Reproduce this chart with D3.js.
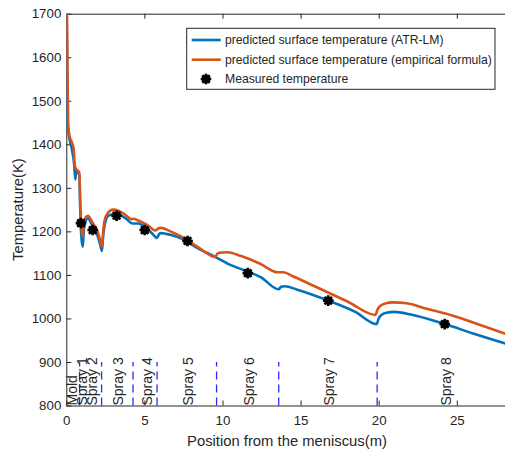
<!DOCTYPE html>
<html><head><meta charset="utf-8">
<script src="https://cdn.jsdelivr.net/npm/d3@7"></script>
<style>body{margin:0;background:#fff}svg{display:block}text{font-family:"Liberation Sans",Arial,Helvetica,sans-serif;fill:#262626}</style>
</head><body>
<svg id="chart" width="505" height="453"></svg>
<script>
// Data
const atrX = [0,0.04,0.07,0.12,0.36,0.5,0.58,0.62,0.83,0.9,0.97,1.05,1.12,1.25,1.4,1.6,1.88,2.05,2.2,2.28,2.35,2.5,2.7,3.1,3.4,3.8,4.25,4.6,5.1,5.5,5.81,5.95,6.05,6.67,7.52,8.38,9.55,10.5,11.58,12.44,13.6,13.75,14.0,14.79,16.77,18.5,19.87,20.0,20.17,20.5,21,22.05,24.23,26,28.5];
const atrT = [1800,1650,1446,1430,1388,1355,1319,1338,1330,1240,1185,1165,1200,1225,1230,1218,1200,1185,1165,1155,1185,1222,1236,1240,1238,1230,1218,1218,1208,1195,1185,1194,1196,1192,1181,1162,1141,1123,1108,1095,1067,1073,1074,1066,1041,1015,987,1000,1008,1013,1015,1009,987,966,938];
const empX = [0,0.04,0.08,0.12,0.2,0.35,0.47,0.55,0.6,0.83,0.9,0.97,1.05,1.12,1.25,1.4,1.6,1.88,2.05,2.2,2.28,2.35,2.45,2.65,3.0,3.3,3.7,4.2,4.3,4.6,5.17,5.71,5.85,6.05,6.67,7.52,8.38,9.55,9.65,9.8,10.3,11.15,12.44,13.55,13.9,14.5,16.07,18,19.8,19.9,20.05,20.4,20.9,21.8,23,24.6,26.5,28.5];
const empT = [1800,1700,1560,1450,1420,1405,1390,1350,1345,1335,1262,1205,1188,1215,1233,1236,1225,1208,1195,1175,1165,1195,1225,1242,1250,1248,1240,1228,1229,1225,1215,1202,1206,1208,1200,1185,1165,1141,1148,1151,1152,1144,1125,1106,1106,1097,1071,1039,1008,1018,1027,1034,1037,1035,1023,1008,985,960];
const measX = [0.94,1.69,3.22,5.02,7.76,11.62,16.77,24.23];
const measT = [1219,1203,1236,1203,1178,1104,1041,987];
const zoneX = [0.85,2.26,4.27,5.81,9.62,13.6,19.9];
const zoneLabels = ["Mold","Spray 1","Spray 2","Spray 3","Spray 4","Spray 5","Spray 6","Spray 7","Spray 8"];
const zoneLabelX = [0.34,1.02,1.66,3.33,5.2,7.8,11.7,16.8,24.3];
const xTicks = [0,5,10,15,20,25];
const yTicks = [800,900,1000,1100,1200,1300,1400,1500,1600,1700];
const legendLabels = ["predicted surface temperature (ATR-LM)","predicted surface temperature (empirical formula)","Measured temperature"];

const svg = d3.select("#chart");
const L = 66.3, T = 13.7, B = 405.5;
const x = d3.scaleLinear().domain([0,30]).range([L, L + 30*15.62]);
const y = d3.scaleLinear().domain([800,1700]).range([B, T]);
const R = x(30);
const axisCol = "#262626";

svg.append("clipPath").attr("id","clip").append("rect")
  .attr("x", L).attr("y", T).attr("width", R - L).attr("height", B - T);

// axes
const gx = svg.append("g").attr("transform",`translate(0,${B})`)
  .call(d3.axisBottom(x).tickValues(xTicks).tickFormat(d3.format("d")).tickSizeInner(-5).tickSizeOuter(0).tickPadding(10));
const gxt = svg.append("g").attr("transform",`translate(0,${T})`)
  .call(d3.axisTop(x).tickValues(xTicks).tickSizeInner(-5).tickSizeOuter(0).tickFormat(""));
const gy = svg.append("g").attr("transform",`translate(${L},0)`)
  .call(d3.axisLeft(y).tickValues(yTicks).tickFormat(d3.format("d")).tickSizeInner(-5).tickSizeOuter(0).tickPadding(5));
[gx,gxt,gy].forEach(g=>{
  g.selectAll("path").attr("stroke",axisCol).attr("stroke-width",1);
  g.selectAll("line").attr("stroke",axisCol);
  g.selectAll("text").attr("font-size","13.3px").attr("font-family","Liberation Sans, Arial, sans-serif").attr("fill",axisCol);
});

// zone dashed lines
svg.append("g").selectAll("line").data(zoneX).join("line")
  .attr("x1",d=>x(d)).attr("x2",d=>x(d)).attr("y1",y(800)).attr("y2",y(900))
  .attr("stroke","#2a2aff").attr("stroke-width",1.3).attr("stroke-dasharray","8,5");

// zone labels
svg.append("g").selectAll("text").data(zoneLabels).join("text")
  .attr("transform",(d,i)=>`translate(${x(zoneLabelX[i])},${y(800)}) rotate(-90)`)
  .attr("dy","0.35em").attr("font-size","14px").attr("fill","#000").text(d=>d);

// curves
const line = d3.line().x(d=>x(d[0])).y(d=>y(d[1])).curve(d3.curveMonotoneX);
const plot = svg.append("g").attr("clip-path","url(#clip)");
plot.append("path").datum(atrX.map((v,i)=>[v,atrT[i]]))
  .attr("d",line).attr("fill","none").attr("stroke","#0072BD").attr("stroke-width",2.6).attr("stroke-linejoin","round");
plot.append("path").datum(empX.map((v,i)=>[v,empT[i]]))
  .attr("d",line).attr("fill","none").attr("stroke","#D95319").attr("stroke-width",2.6).attr("stroke-linejoin","round");

function marker(g, cx, cy){
  const m = g.append("g").attr("transform",`translate(${cx},${cy})`);
  m.append("circle").attr("r",4.2).attr("fill","#000");
  for (let k=0;k<4;k++){
    const a = k*Math.PI/4;
    m.append("line").attr("x1",-5.3*Math.cos(a)).attr("y1",-5.3*Math.sin(a))
      .attr("x2",5.3*Math.cos(a)).attr("y2",5.3*Math.sin(a))
      .attr("stroke","#000").attr("stroke-width",2.6);
  }
}
const mg = plot.append("g");
measX.forEach((v,i)=>marker(mg, x(v), y(measT[i])));

// axis titles
svg.append("text").attr("x", 287).attr("y", 446).attr("text-anchor","middle")
  .attr("font-size","14.8px").text("Position from the meniscus(m)");
svg.append("text").attr("transform",`translate(23,${(T+B)/2}) rotate(-90)`).attr("text-anchor","middle")
  .attr("font-size","14.8px").text("Temperature(K)");

// legend
const lg = svg.append("g");
lg.append("rect").attr("x",186.7).attr("y",28.3).attr("width",308.3).attr("height",61)
  .attr("fill","#fff").attr("stroke",axisCol).attr("stroke-width",1);
const rows = [40, 59.7, 79];
const cols = ["#0072BD","#D95319"];
[0,1].forEach(i=>{
  lg.append("line").attr("x1",191.7).attr("x2",220.7).attr("y1",rows[i]).attr("y2",rows[i])
    .attr("stroke",cols[i]).attr("stroke-width",2.6);
});
marker(lg, 206, rows[2]);
legendLabels.forEach((t,i)=>{
  lg.append("text").attr("x",225).attr("y",rows[i]).attr("dy","0.35em").attr("font-size","12.2px").attr("fill","#000").text(t);
});
</script>
</body></html>
